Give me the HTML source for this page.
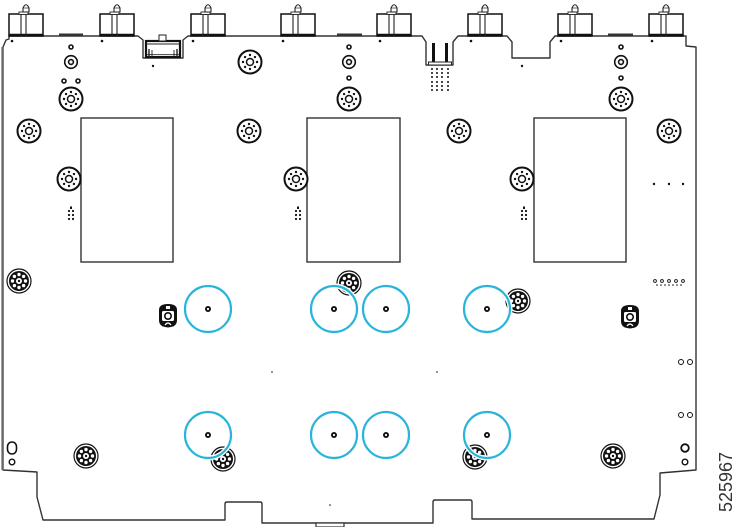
<!DOCTYPE html>
<html><head><meta charset="utf-8"><style>
html,body{margin:0;padding:0;background:#fff;}
svg{display:block;}
</style></head><body>
<svg width="740" height="527" viewBox="0 0 740 527" xmlns="http://www.w3.org/2000/svg">
<defs>
<g id="fl">
<circle r="11.5" fill="#fff" stroke="#111" stroke-width="2"/>
<circle r="3.5" fill="none" stroke="#111" stroke-width="1.5"/>
<g fill="#111">
<circle cx="7" cy="0" r="1.2"/><circle cx="4.95" cy="4.95" r="1.2"/><circle cx="0" cy="7" r="1.2"/><circle cx="-4.95" cy="4.95" r="1.2"/>
<circle cx="-7" cy="0" r="1.2"/><circle cx="-4.95" cy="-4.95" r="1.2"/><circle cx="0" cy="-7" r="1.2"/><circle cx="4.95" cy="-4.95" r="1.2"/>
</g>
</g>
<g id="df">
<circle r="12" fill="#fff" stroke="#111" stroke-width="1.2"/>
<circle r="10" fill="#111"/>
<g fill="#fff">
<circle cx="6.5" cy="0" r="1.7"/><circle cx="4.6" cy="4.6" r="1.7"/><circle cx="0" cy="6.5" r="1.7"/><circle cx="-4.6" cy="4.6" r="1.7"/>
<circle cx="-6.5" cy="0" r="1.7"/><circle cx="-4.6" cy="-4.6" r="1.7"/><circle cx="0" cy="-6.5" r="1.7"/><circle cx="4.6" cy="-4.6" r="1.7"/>
</g>
<circle r="3" fill="#fff"/>
<circle r="1.2" fill="#111"/>
</g>
<g id="conn">
<rect x="0" y="14" width="34" height="22" fill="#fff" stroke="#111" stroke-width="1.5"/>
<line x1="0" y1="35" x2="34" y2="35" stroke="#111" stroke-width="2.5"/>
<line x1="12" y1="12" x2="12" y2="36" stroke="#222" stroke-width="1.1"/>
<line x1="17" y1="12" x2="17" y2="36" stroke="#222" stroke-width="1.1"/>
<rect x="10" y="12" width="9" height="2.5" fill="#fff" stroke="#222" stroke-width="0.9"/>
<path d="M14 12 L14 8 Q17 1.5 20 8 L20 12 Z" fill="#fff" stroke="#222" stroke-width="1.1"/>
<line x1="14" y1="8" x2="20" y2="8" stroke="#222" stroke-width="0.7"/>
</g>
<g id="cy">
<circle r="23" fill="none" stroke="#fff" stroke-width="5"/>
<circle r="23" fill="none" stroke="#2bb4da" stroke-width="2.2"/>
<circle r="3" fill="#111"/>
<circle r="1.1" fill="#fff"/>
</g>
<g id="sh">
<path d="M-9 -6 Q-9 -12 0 -12 Q9 -12 9 -6 L9 4 Q9 10 3 11 L0 11.5 L-3 11 Q-9 10 -9 4 Z" fill="#111"/>
<rect x="-6" y="-5" width="12" height="10" rx="1.5" fill="#fff"/>
<circle cx="0" cy="0" r="3.2" fill="none" stroke="#111" stroke-width="1.6"/>
<rect x="-2" y="-10" width="4" height="3" fill="#fff"/>
<path d="M-3 9 Q0 5 3 9" fill="none" stroke="#fff" stroke-width="1.2"/>
</g>
<g id="icl" fill="#111">
<rect x="-1" y="-7.5" width="2" height="2.5"/>
<circle cx="-2" cy="-3" r="1.1"/><circle cx="2" cy="-3" r="1.1"/>
<circle cx="-2" cy="1" r="1.1"/><circle cx="2" cy="1" r="1.1"/>
<circle cx="-2" cy="5" r="1.1"/><circle cx="2" cy="5" r="1.1"/>
</g>
</defs>

<!-- board outline -->
<path d="M3 47 L6 40 L9 39 L9 36 L138 36 L143 40 L143 58 L183 58 L183 40 L188 36 L422 36 L426 42 L426 65 L453 65 L453 42 L458 36 L507 36 L512 42 L512 58 L550 58 L550 42 L555 36 L686 36 L686 46 L696 47 L696 470 L660 473 L660 495 L654 519 L472 519 L472 502 Q472 500 470 500 L435 500 Q433 500 433 502 L433 523 L262 523 L262 504 Q262 502 260 502 L227 502 Q225 502 225 504 L225 520 L43 520 L37 497 L37 472 L3 470 Z" fill="#fff" stroke="#333" stroke-width="1.4" stroke-linejoin="round"/>
<line x1="2.5" y1="47" x2="2.5" y2="470" stroke="#666" stroke-width="2.2"/>

<!-- top connectors -->
<use href="#conn" x="9" y="0"/>
<use href="#conn" x="100" y="0"/>
<use href="#conn" x="191" y="0"/>
<use href="#conn" x="281" y="0"/>
<use href="#conn" x="377" y="0"/>
<use href="#conn" x="468" y="0"/>
<use href="#conn" x="558" y="0"/>
<use href="#conn" x="649" y="0"/>

<!-- edge bars -->
<rect x="59" y="33.5" width="24" height="2.5" fill="#333"/>
<rect x="337" y="33.5" width="25" height="2.5" fill="#333"/>
<rect x="608" y="33.5" width="25" height="2.5" fill="#333"/>

<!-- dots under connectors -->
<g fill="#111">
<circle cx="12" cy="41" r="1.3"/><circle cx="102" cy="41" r="1.3"/><circle cx="193" cy="41" r="1.3"/><circle cx="283" cy="41" r="1.3"/>
<circle cx="380" cy="41" r="1.3"/><circle cx="471" cy="41" r="1.3"/><circle cx="561" cy="41" r="1.3"/><circle cx="652" cy="41" r="1.3"/>
<circle cx="153" cy="66" r="1.2"/><circle cx="522" cy="66" r="1.2"/>
<circle cx="272" cy="372" r="0.8"/><circle cx="437" cy="372" r="0.8"/><circle cx="330" cy="505" r="0.8"/>
</g>

<!-- left middle connector -->
<rect x="146" y="41" width="34" height="16" fill="#fff" stroke="#111" stroke-width="2.2"/>
<line x1="146" y1="44" x2="180" y2="44" stroke="#222" stroke-width="0.9"/>
<rect x="159" y="35" width="7" height="6" fill="#fff" stroke="#222" stroke-width="1"/>
<line x1="149" y1="49" x2="149" y2="57" stroke="#222" stroke-width="1.4"/>
<line x1="152" y1="50" x2="152" y2="57" stroke="#222" stroke-width="0.9"/>
<line x1="174" y1="50" x2="174" y2="57" stroke="#222" stroke-width="0.9"/>
<line x1="177" y1="49" x2="177" y2="57" stroke="#222" stroke-width="1.4"/>
<line x1="147" y1="54.5" x2="179" y2="54.5" stroke="#222" stroke-width="0.8"/>

<!-- right cutout connector -->
<rect x="432" y="43" width="3" height="19" fill="#111"/>
<rect x="445" y="43" width="3" height="19" fill="#111"/>
<rect x="428.5" y="62" width="23" height="3" fill="#fff" stroke="#222" stroke-width="1"/>
<g fill="#111">
<circle cx="432" cy="69" r="1"/><circle cx="437" cy="69" r="1"/><circle cx="442" cy="69" r="1"/><circle cx="448" cy="69" r="1"/>
<circle cx="432" cy="73" r="1"/><circle cx="437" cy="73" r="1"/><circle cx="442" cy="73" r="1"/><circle cx="448" cy="73" r="1"/>
<circle cx="432" cy="77" r="1"/><circle cx="437" cy="77" r="1"/><circle cx="442" cy="77" r="1"/><circle cx="448" cy="77" r="1"/>
<circle cx="432" cy="82" r="1"/><circle cx="437" cy="82" r="1"/><circle cx="442" cy="82" r="1"/><circle cx="448" cy="82" r="1"/>
<circle cx="432" cy="86" r="1"/><circle cx="437" cy="86" r="1"/><circle cx="442" cy="86" r="1"/><circle cx="448" cy="86" r="1"/>
<circle cx="432" cy="90" r="1"/><circle cx="437" cy="90" r="1"/><circle cx="442" cy="90" r="1"/><circle cx="448" cy="90" r="1"/>
</g>

<!-- small rings column -->
<g fill="none" stroke="#111" stroke-width="1.6">
<circle cx="71" cy="47" r="2"/><circle cx="71" cy="62" r="6.3"/><circle cx="71" cy="62" r="2.4"/>
<circle cx="64" cy="81" r="2"/><circle cx="78" cy="81" r="2"/>
<circle cx="349" cy="47" r="2"/><circle cx="349" cy="62" r="6.3"/><circle cx="349" cy="62" r="2.4"/><circle cx="349" cy="78" r="2"/>
<circle cx="621" cy="47" r="2"/><circle cx="621" cy="62" r="6.3"/><circle cx="621" cy="62" r="2.4"/><circle cx="621" cy="78" r="2"/>
</g>

<!-- heatsink rectangles -->
<g fill="#fff" stroke="#333" stroke-width="1.4">
<rect x="81" y="118" width="92" height="144"/>
<rect x="307" y="118" width="93" height="144"/>
<rect x="534" y="118" width="92" height="144"/>
</g>

<!-- flower holes -->
<use href="#fl" x="71" y="99"/>
<use href="#fl" x="29" y="131"/>
<use href="#fl" x="69" y="179"/>
<use href="#fl" x="250" y="62"/>
<use href="#fl" x="249" y="131"/>
<use href="#fl" x="296" y="179"/>
<use href="#fl" x="349" y="99"/>
<use href="#fl" x="459" y="131"/>
<use href="#fl" x="522" y="179"/>
<use href="#fl" x="621" y="99"/>
<use href="#fl" x="669" y="131"/>

<!-- i clusters -->
<use href="#icl" x="71" y="214"/>
<use href="#icl" x="298" y="214"/>
<use href="#icl" x="524" y="214"/>

<!-- right dots -->
<g fill="#111">
<circle cx="654" cy="184" r="1.2"/><circle cx="669" cy="184" r="1.2"/><circle cx="683" cy="184" r="1.2"/>
<circle cx="657" cy="285" r="0.8"/><circle cx="661" cy="285" r="0.8"/><circle cx="665" cy="285" r="0.8"/><circle cx="669" cy="285" r="0.8"/><circle cx="673" cy="285" r="0.8"/><circle cx="677" cy="285" r="0.8"/><circle cx="681" cy="285" r="0.8"/>
</g>
<g fill="none" stroke="#111" stroke-width="0.9">
<circle cx="655" cy="281" r="1.4"/><circle cx="662" cy="281" r="1.4"/><circle cx="669" cy="281" r="1.4"/><circle cx="676" cy="281" r="1.4"/><circle cx="683" cy="281" r="1.4"/>
</g>

<!-- dark flowers -->
<use href="#df" x="19" y="281"/>
<use href="#df" x="349" y="283"/>
<use href="#df" x="518" y="301"/>
<use href="#df" x="86" y="456"/>
<use href="#df" x="223" y="459"/>
<use href="#df" x="475" y="457"/>
<use href="#df" x="613" y="456"/>

<!-- shields -->
<use href="#sh" x="168" y="316"/>
<use href="#sh" x="630" y="317"/>

<!-- cyan circles -->
<use href="#cy" x="208" y="309"/>
<use href="#cy" x="334" y="309"/>
<use href="#cy" x="386" y="309"/>
<use href="#cy" x="487" y="309"/>
<use href="#cy" x="208" y="435"/>
<use href="#cy" x="334" y="435"/>
<use href="#cy" x="386" y="435"/>
<use href="#cy" x="487" y="435"/>

<!-- edge small holes -->
<g fill="none" stroke="#111">
<circle cx="681" cy="362" r="2.5" stroke-width="1"/><circle cx="690" cy="362" r="2.5" stroke-width="1"/>
<circle cx="681" cy="415" r="2.5" stroke-width="1"/><circle cx="690" cy="415" r="2.5" stroke-width="1"/>
<circle cx="685" cy="448" r="3.8" stroke-width="1.8"/>
<circle cx="685" cy="462" r="2.8" stroke-width="1.4"/>
<rect x="7.5" y="442" width="9" height="12" rx="4.5" stroke-width="1.6"/>
<circle cx="12" cy="462" r="2.8" stroke-width="1.4"/>
</g>

<!-- bottom small connector -->
<rect x="316" y="523" width="28" height="4" fill="#fff" stroke="#333" stroke-width="1.2"/>

<text x="0" y="0" transform="translate(732,482) rotate(-90)" text-anchor="middle" font-family="Liberation Sans, Arial, sans-serif" font-size="18" fill="#333">525967</text>
</svg>
</body></html>
